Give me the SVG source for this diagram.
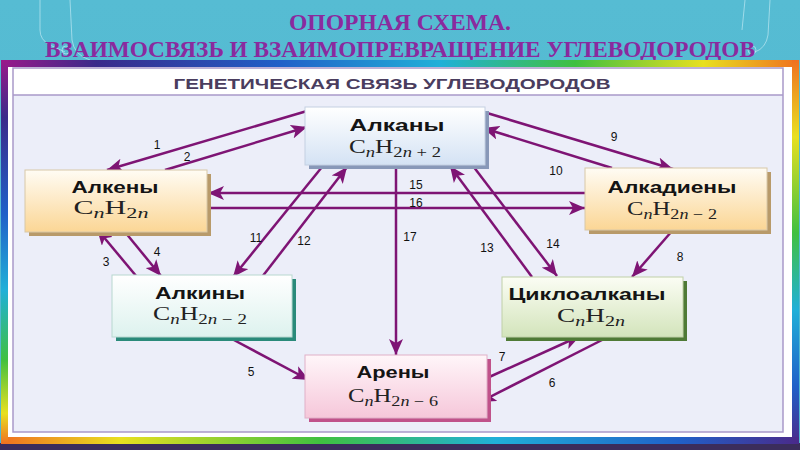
<svg xmlns="http://www.w3.org/2000/svg" width="800" height="450" viewBox="0 0 800 450">
<defs>
<linearGradient id="bg" x1="0" y1="0" x2="0" y2="1"><stop offset="0" stop-color="#56bcd3"/><stop offset="1" stop-color="#4fb6cf"/></linearGradient>
<linearGradient id="rTop" x1="0" y1="0" x2="1" y2="0"><stop offset="0" stop-color="#9a1a8a"/><stop offset="0.12" stop-color="#3a2a8a"/><stop offset="0.35" stop-color="#2060c8"/><stop offset="0.55" stop-color="#20b0d8"/><stop offset="0.72" stop-color="#40c040"/><stop offset="0.88" stop-color="#e8e020"/><stop offset="1" stop-color="#f07020"/></linearGradient>
<linearGradient id="rRight" x1="0" y1="0" x2="0" y2="1"><stop offset="0" stop-color="#f07020"/><stop offset="0.2" stop-color="#e8e020"/><stop offset="0.45" stop-color="#40c040"/><stop offset="0.65" stop-color="#20b0d8"/><stop offset="0.85" stop-color="#2060c8"/><stop offset="1" stop-color="#4a2a8a"/></linearGradient>
<linearGradient id="rBottom" x1="0" y1="0" x2="1" y2="0"><stop offset="0" stop-color="#f07020"/><stop offset="0.15" stop-color="#e8e020"/><stop offset="0.4" stop-color="#40c040"/><stop offset="0.62" stop-color="#20b0d8"/><stop offset="0.85" stop-color="#2060c8"/><stop offset="1" stop-color="#4a2a8a"/></linearGradient>
<linearGradient id="rLeft" x1="0" y1="0" x2="0" y2="1"><stop offset="0" stop-color="#9a1a8a"/><stop offset="0.15" stop-color="#3a2a8a"/><stop offset="0.4" stop-color="#2060c8"/><stop offset="0.6" stop-color="#20b0d8"/><stop offset="0.78" stop-color="#40c040"/><stop offset="0.92" stop-color="#e8e020"/><stop offset="1" stop-color="#f07020"/></linearGradient>
<linearGradient id="gBlue" x1="0" y1="0" x2="0" y2="1"><stop offset="0" stop-color="#ffffff"/><stop offset="1" stop-color="#d4e2f4"/></linearGradient>
<linearGradient id="gOrange" x1="0" y1="0" x2="0" y2="1"><stop offset="0" stop-color="#fffcf4"/><stop offset="1" stop-color="#fbd695"/></linearGradient>
<linearGradient id="gTeal" x1="0" y1="0" x2="0" y2="1"><stop offset="0" stop-color="#ffffff"/><stop offset="1" stop-color="#ddf2ee"/></linearGradient>
<linearGradient id="gGreen" x1="0" y1="0" x2="0" y2="1"><stop offset="0" stop-color="#fbfdf4"/><stop offset="1" stop-color="#d3e4bb"/></linearGradient>
<linearGradient id="gPink" x1="0" y1="0" x2="0" y2="1"><stop offset="0" stop-color="#fff6f9"/><stop offset="1" stop-color="#f6c7da"/></linearGradient>
<marker id="ah" markerUnits="userSpaceOnUse" markerWidth="18" markerHeight="14" refX="16" refY="7" orient="auto">
<path d="M0,0 L16,7 L0,14 L4,7 Z" fill="#7e1474"/>
</marker>
<style>
.title{font-family:"Liberation Serif",serif;font-size:24px;font-weight:bold;fill:#8a2a9e;text-anchor:middle}
.hdr{font-family:"Liberation Sans",sans-serif;font-size:14px;font-weight:bold;fill:#4a3d5e;text-anchor:middle}
.nm{font-family:"Liberation Sans",sans-serif;font-size:16px;font-weight:bold;fill:#141414;text-anchor:middle}
.f{font-family:"Liberation Serif",serif;font-size:19px;fill:#222;text-anchor:middle}
.sb{font-size:14px}
.it{font-style:italic}
.num{font-family:"Liberation Sans",sans-serif;font-size:12px;fill:#111;text-anchor:middle}
.ar{stroke:#7e1474;stroke-width:2.5;fill:none;marker-end:url(#ah)}
.deco{stroke:#cfeff6;stroke-width:1;fill:none;opacity:0.6}
</style>
</defs>
<rect x="0" y="0" width="800" height="450" fill="url(#bg)"/>
<g id="decor">
<path class="deco" d="M40,0 L40,30 Q40,40 50,45 L65,52 M70,0 L72,40 Q74,55 90,60"/>
<circle class="deco" cx="66" cy="50" r="4"/>
<path class="deco" d="M770,0 L768,35 Q766,48 755,52 M745,0 L742,30"/>
<circle class="deco" cx="752" cy="50" r="4"/>
</g>
<g id="title">
<text class="title" x="400" y="30" textLength="222" lengthAdjust="spacingAndGlyphs">ОПОРНАЯ СХЕМА.</text>
<text class="title" x="400" y="57" textLength="710" lengthAdjust="spacingAndGlyphs">ВЗАИМОСВЯЗЬ И ВЗАИМОПРЕВРАЩЕНИЕ УГЛЕВОДОРОДОВ</text>
</g>
<g id="frame">
<rect x="0" y="443" width="800" height="7" fill="#3b2d5c"/>
<rect x="1" y="60" width="798" height="384" fill="#ffffff"/>
<rect x="1" y="60" width="798" height="7" fill="url(#rTop)"/>
<rect x="792" y="60" width="7" height="384" fill="url(#rRight)"/>
<rect x="1" y="437" width="798" height="7" fill="url(#rBottom)"/>
<rect x="1" y="60" width="7" height="384" fill="url(#rLeft)"/>
<rect x="13" y="95" width="770" height="337" fill="#eceef9"/>
<rect x="13" y="68" width="770" height="364" fill="none" stroke="#a999c9" stroke-width="1.5"/>
<line x1="13" y1="95" x2="783" y2="95" stroke="#a999c9" stroke-width="1.5"/>
<text class="hdr" x="392" y="89" textLength="437" lengthAdjust="spacingAndGlyphs">ГЕНЕТИЧЕСКАЯ  СВЯЗЬ  УГЛЕВОДОРОДОВ</text>
</g>
<g id="connectors">
<path class="ar" d="M307,111 L107,170"/>
<path class="ar" d="M165,170 L307,127"/>
<path class="ar" d="M487,113 L673,169"/>
<path class="ar" d="M612,168 L483,128"/>
<path class="ar" d="M585,193 L208,193"/>
<path class="ar" d="M208,208 L585,208"/>
<path class="ar" d="M322,167 L233,277"/>
<path class="ar" d="M262,277 L347,167"/>
<path class="ar" d="M396,166 L396,355"/>
<path class="ar" d="M532,277 L450,166"/>
<path class="ar" d="M473,166 L557,276"/>
<path class="ar" d="M672,231 L632,277"/>
<path class="ar" d="M137,277 L97,229"/>
<path class="ar" d="M125,232 L161,276"/>
<path class="ar" d="M232,339 L309,380"/>
<path class="ar" d="M487,378 L580,336"/>
<path class="ar" d="M604,339 L480,402"/>
</g>
<g id="labels">
<text class="num" x="157" y="149">1</text>
<text class="num" x="187" y="161">2</text>
<text class="num" x="614" y="141">9</text>
<text class="num" x="556" y="175">10</text>
<text class="num" x="416" y="189">15</text>
<text class="num" x="416" y="207">16</text>
<text class="num" x="256" y="242">11</text>
<text class="num" x="304" y="245">12</text>
<text class="num" x="410" y="241">17</text>
<text class="num" x="487" y="252">13</text>
<text class="num" x="553" y="248">14</text>
<text class="num" x="680" y="261">8</text>
<text class="num" x="106" y="266">3</text>
<text class="num" x="157" y="256">4</text>
<text class="num" x="251" y="376">5</text>
<text class="num" x="502" y="361">7</text>
<text class="num" x="552" y="387">6</text>
</g>
<g id="alkany">
<rect x="309" y="111" width="180" height="58" fill="#8898b8"/>
<rect x="305" y="107" width="180" height="58" fill="url(#gBlue)" stroke="#c4d0e2" stroke-width="1"/>
<text class="nm" x="397" y="131" textLength="95" lengthAdjust="spacingAndGlyphs">Алканы</text>
<text class="f" x="395" y="153" textLength="92" lengthAdjust="spacingAndGlyphs">C<tspan class="sb it" dy="4">n</tspan><tspan dy="-4">H</tspan><tspan class="sb" dy="4">2<tspan class="it">n</tspan> + 2</tspan></text>
</g>
<g id="alkeny">
<rect x="29" y="174" width="182" height="62" fill="#b89a6a"/>
<rect x="25" y="170" width="182" height="62" fill="url(#gOrange)" stroke="#d8c8a8" stroke-width="1"/>
<text class="nm" x="115" y="193" textLength="87" lengthAdjust="spacingAndGlyphs">Алкены</text>
<text class="f" x="111" y="214" textLength="75" lengthAdjust="spacingAndGlyphs">C<tspan class="sb it" dy="4">n</tspan><tspan dy="-4">H</tspan><tspan class="sb" dy="4">2<tspan class="it">n</tspan></tspan></text>
</g>
<g id="alkadieny">
<rect x="589" y="172" width="182" height="62" fill="#b89a6a"/>
<rect x="585" y="168" width="182" height="62" fill="url(#gOrange)" stroke="#d8c8a8" stroke-width="1"/>
<text class="nm" x="672" y="193" textLength="129" lengthAdjust="spacingAndGlyphs">Алкадиены</text>
<text class="f" x="672" y="215" textLength="90" lengthAdjust="spacingAndGlyphs">C<tspan class="sb it" dy="4">n</tspan><tspan dy="-4">H</tspan><tspan class="sb" dy="4">2<tspan class="it">n</tspan> − 2</tspan></text>
</g>
<g id="alkiny">
<rect x="116" y="279" width="180" height="62" fill="#2a8a7a"/>
<rect x="112" y="275" width="180" height="62" fill="url(#gTeal)" stroke="#b8d8d0" stroke-width="1"/>
<text class="nm" x="200" y="299" textLength="90" lengthAdjust="spacingAndGlyphs">Алкины</text>
<text class="f" x="200" y="320" textLength="94" lengthAdjust="spacingAndGlyphs">C<tspan class="sb it" dy="4">n</tspan><tspan dy="-4">H</tspan><tspan class="sb" dy="4">2<tspan class="it">n</tspan> − 2</tspan></text>
</g>
<g id="cikloalkany">
<rect x="506" y="281" width="181" height="60" fill="#4f7a36"/>
<rect x="502" y="277" width="181" height="60" fill="url(#gGreen)" stroke="#c0d0a8" stroke-width="1"/>
<text class="nm" x="587" y="300" textLength="157" lengthAdjust="spacingAndGlyphs">Циклоалканы</text>
<text class="f" x="591" y="322" textLength="68" lengthAdjust="spacingAndGlyphs">C<tspan class="sb it" dy="4">n</tspan><tspan dy="-4">H</tspan><tspan class="sb" dy="4">2<tspan class="it">n</tspan></tspan></text>
</g>
<g id="areny">
<rect x="309" y="359" width="182" height="63" fill="#c0528a"/>
<rect x="305" y="355" width="182" height="63" fill="url(#gPink)" stroke="#e0b0c8" stroke-width="1"/>
<text class="nm" x="393" y="378" textLength="73" lengthAdjust="spacingAndGlyphs">Арены</text>
<text class="f" x="393" y="402" textLength="90" lengthAdjust="spacingAndGlyphs">C<tspan class="sb it" dy="4">n</tspan><tspan dy="-4">H</tspan><tspan class="sb" dy="4">2<tspan class="it">n</tspan> − 6</tspan></text>
</g>
</svg>
